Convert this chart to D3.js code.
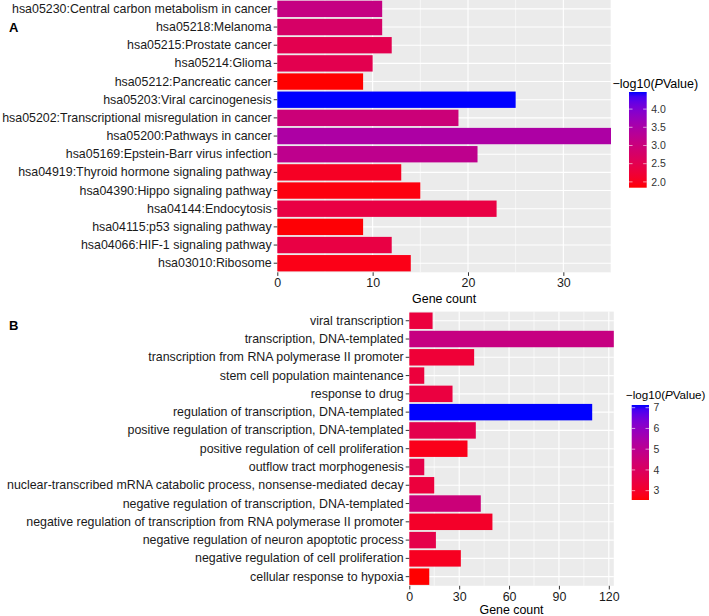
<!DOCTYPE html>
<html><head><meta charset="utf-8">
<script src="https://cdn.jsdelivr.net/npm/d3@7"></script>
<style>
body{margin:0;background:#fff}
svg{display:block}
text{font-family:"Liberation Sans",Arial,Helvetica,sans-serif}
</style></head>
<body>
<svg id="chart" width="709" height="616"></svg>
<script>
// ---------- Panel A : KEGG pathways (top-to-bottom order) ----------
const keggTerms = [
  "hsa05230:Central carbon metabolism in cancer",
  "hsa05218:Melanoma",
  "hsa05215:Prostate cancer",
  "hsa05214:Glioma",
  "hsa05212:Pancreatic cancer",
  "hsa05203:Viral carcinogenesis",
  "hsa05202:Transcriptional misregulation in cancer",
  "hsa05200:Pathways in cancer",
  "hsa05169:Epstein-Barr virus infection",
  "hsa04919:Thyroid hormone signaling pathway",
  "hsa04390:Hippo signaling pathway",
  "hsa04144:Endocytosis",
  "hsa04115:p53 signaling pathway",
  "hsa04066:HIF-1 signaling pathway",
  "hsa03010:Ribosome"
];
const keggCounts = [11, 11, 12, 10, 9, 25, 19, 35, 21, 13, 15, 23, 9, 12, 14];
const keggLogP   = [3.08, 2.76, 2.50, 2.50, 1.84, 4.47, 2.97, 3.47, 3.21, 2.05, 1.90, 2.37, 1.86, 2.37, 1.95];
const keggTicks = [0, 10, 20, 30];
const keggMinorTicks = [5, 15, 25, 35];
const keggLegendTicks = [2.0, 2.5, 3.0, 3.5, 4.0];

// ---------- Panel B : GO biological processes ----------
const goTerms = [
  "viral transcription",
  "transcription, DNA-templated",
  "transcription from RNA polymerase II promoter",
  "stem cell population maintenance",
  "response to drug",
  "regulation of transcription, DNA-templated",
  "positive regulation of transcription, DNA-templated",
  "positive regulation of cell proliferation",
  "outflow tract morphogenesis",
  "nuclear-transcribed mRNA catabolic process, nonsense-mediated decay",
  "negative regulation of transcription, DNA-templated",
  "negative regulation of transcription from RNA polymerase II promoter",
  "negative regulation of neuron apoptotic process",
  "negative regulation of cell proliferation",
  "cellular response to hypoxia"
];
const goCounts = [14, 123, 39, 9, 26, 110, 40, 35, 9, 15, 43, 50, 16, 31, 12];
const goLogP   = [3.37, 4.70, 3.24, 3.33, 3.40, 7.13, 3.65, 2.78, 3.60, 3.35, 4.52, 3.00, 3.60, 2.87, 2.55];
const goTicks = [0, 30, 60, 90, 120];
const goMinorTicks = [15, 45, 75, 105];
const goLegendTicks = [3, 4, 5, 6, 7];

const svg = d3.select("#chart");
const FONT = 12.4;

function drawPanel(o) {
  const g = svg.append("g");
  const x = d3.scaleLinear().domain([0, o.xmax]).range([o.x0, o.x1]);
  const y = d3.scaleBand().domain(o.terms).range([o.y0, o.y1])
              .paddingInner(0.1).paddingOuter(0.05);
  const color = d3.scaleLinear().domain(d3.extent(o.logp))
              .range(["red", "blue"]).interpolate(d3.interpolateLab);

  g.append("rect").attr("x", o.x0).attr("y", o.y0)
    .attr("width", o.x1 - o.x0).attr("height", o.y1 - o.y0).attr("fill", "#EBEBEB");
  g.selectAll(".minor").data(o.minor).join("line")
    .attr("x1", d => x(d)).attr("x2", d => x(d)).attr("y1", o.y0).attr("y2", o.y1)
    .attr("stroke", "#fff").attr("stroke-width", 0.6);
  g.selectAll(".majorv").data(o.ticks).join("line")
    .attr("x1", d => x(d)).attr("x2", d => x(d)).attr("y1", o.y0).attr("y2", o.y1)
    .attr("stroke", "#fff").attr("stroke-width", 1.1);
  g.selectAll(".majorh").data(o.terms).join("line")
    .attr("x1", o.x0).attr("x2", o.x1)
    .attr("y1", d => y(d) + y.bandwidth() / 2).attr("y2", d => y(d) + y.bandwidth() / 2)
    .attr("stroke", "#fff").attr("stroke-width", 1.1);

  g.selectAll(".bar").data(o.terms).join("rect")
    .attr("x", x(0)).attr("y", d => y(d))
    .attr("width", (d, i) => x(o.counts[i]) - x(0))
    .attr("height", y.bandwidth())
    .attr("fill", (d, i) => color(o.logp[i]));

  const ax = g.append("g").attr("transform", `translate(0,${o.y1})`)
    .call(d3.axisBottom(x).tickValues(o.ticks).tickFormat(d3.format("d"))
      .tickSize(3.6).tickPadding(2.5));
  const ay = g.append("g").attr("transform", `translate(${o.x0},0)`)
    .call(d3.axisLeft(y).tickSize(3.6).tickPadding(2));
  [ax, ay].forEach(a => {
    a.select(".domain").remove();
    a.selectAll(".tick line").attr("stroke", "#333").attr("stroke-width", 1);
    a.selectAll(".tick text").attr("fill", "#1a1a1a").style("font-size", FONT + "px")
      .style("font-family", '"Liberation Sans",Arial,sans-serif');
  });

  g.append("text").attr("x", (o.x0 + o.x1) / 2).attr("y", o.titleY)
    .attr("text-anchor", "middle").attr("fill", "#000")
    .style("font-size", FONT + "px").text("Gene count");

  g.append("text").attr("x", o.tagX).attr("y", o.tagY)
    .attr("font-weight", "bold").style("font-size", "13px").attr("fill", "#000").text(o.tag);

  const L = o.legend;
  const gid = "grad" + o.tag;
  const grad = svg.append("defs").append("linearGradient").attr("id", gid)
    .attr("x1", 0).attr("x2", 0).attr("y1", 1).attr("y2", 0);
  const ext = d3.extent(o.logp);
  d3.range(0, 1.0001, 0.05).forEach(t => {
    grad.append("stop").attr("offset", t)
      .attr("stop-color", color(ext[0] + t * (ext[1] - ext[0])));
  });
  const ly = d3.scaleLinear().domain(ext).range([L.y1, L.y0]);
  g.append("rect").attr("x", L.x).attr("y", L.y0).attr("width", L.w)
    .attr("height", L.y1 - L.y0).attr("fill", `url(#${gid})`);
  g.selectAll(".lt1").data(o.legendTicks).join("line")
    .attr("x1", L.x).attr("x2", L.x + L.w / 5)
    .attr("y1", d => ly(d)).attr("y2", d => ly(d))
    .attr("stroke", "#fff").attr("stroke-width", 0.6);
  g.selectAll(".lt2").data(o.legendTicks).join("line")
    .attr("x1", L.x + L.w - L.w / 5).attr("x2", L.x + L.w)
    .attr("y1", d => ly(d)).attr("y2", d => ly(d))
    .attr("stroke", "#fff").attr("stroke-width", 0.6);
  g.selectAll(".ll").data(o.legendTicks).join("text")
    .attr("x", L.x + L.w + 4.5).attr("y", d => ly(d)).attr("dy", "0.35em")
    .attr("fill", "#333").style("font-size", "10.5px")
    .text(d => d3.format(o.legendFmt)(d));
  const tt = g.append("text").attr("x", L.titleX).attr("y", L.titleY)
    .attr("fill", "#000").style("font-size", L.titleSize + "px");
  tt.append("tspan").text("\u2212log10(");
  tt.append("tspan").attr("font-style", "italic").text("P");
  tt.append("tspan").text("Value)");
}

drawPanel({
  terms: keggTerms, counts: keggCounts, logp: keggLogP,
  ticks: keggTicks, minor: keggMinorTicks, legendTicks: keggLegendTicks, legendFmt: ".1f",
  xmax: 35, x0: 277.3, x1: 611, y0: -0.2, y1: 272.3, titleY: 303,
  tag: "A", tagX: 9, tagY: 32,
  legend: { x: 629, w: 17.7, y0: 92, y1: 187.7, titleX: 612.5, titleY: 88, titleSize: 12.5 }
});

drawPanel({
  terms: goTerms, counts: goCounts, logp: goLogP,
  ticks: goTicks, minor: goMinorTicks, legendTicks: goLegendTicks, legendFmt: "d",
  xmax: 123, x0: 409.3, x1: 613.8, y0: 311.6, y1: 585.8, titleY: 614,
  tag: "B", tagX: 9, tagY: 330,
  legend: { x: 631.7, w: 17.3, y0: 405, y1: 500, titleX: 626, titleY: 399, titleSize: 11.6 }
});
</script>
</body></html>
